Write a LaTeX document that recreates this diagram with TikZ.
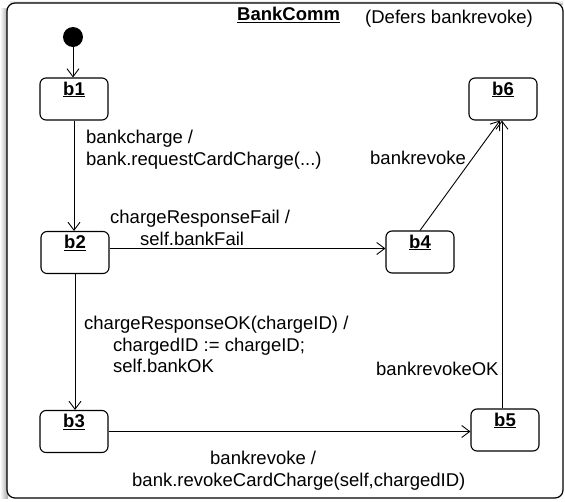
\documentclass[tikz,border=0pt]{standalone}
\usepackage{fontspec}
\setmainfont{Liberation Sans}
\usetikzlibrary{arrows.meta}
\begin{document}
\begin{tikzpicture}[x=1pt,y=-1pt,
  state/.style={draw, line width=1.1pt, rounded corners=6pt, minimum width=68pt, minimum height=42pt,
    inner xsep=0pt, inner ysep=0pt, text height=17pt, text depth=25pt,
    font=\fontsize{18.5}{21.5}\selectfont\bfseries},
  trans/.style={draw, line width=0.9pt, -{Straight Barb[length=8pt,width=12pt,line width=0.9pt]}},
  lbl/.style={inner sep=0pt, anchor=north west, align=left, font=\fontsize{18.5}{21.5}\selectfont}]
\useasboundingbox (0,0) rectangle (565,501);
% frame with soft shadow
\shade[left color=white, right color=gray!70] (0,8) rectangle (8,498);
\shade[top color=white, bottom color=gray!50] (10,0) rectangle (563,4);
\draw[line width=1.2pt, fill=white, rounded corners=8pt] (7,3) rectangle (563,498);
\node[lbl, font=\fontsize{18.5}{21.5}\selectfont\bfseries] (title) at (237,7) {\underline{BankComm}};
\node[lbl] (defers) at (365,10) {(Defers bankrevoke)};
% initial pseudo-state
\node[circle, fill=black, minimum size=20pt, inner sep=0pt] (init) at (73,37) {};
% states
\node[state] (b1) at (74,99) {\underline{b1}};
\node[state] (b2) at (75,252.5) {\underline{b2}};
\node[state] (b3) at (74,431.5) {\underline{b3}};
\node[state] (b4) at (420,252) {\underline{b4}};
\node[state] (b5) at (505,430) {\underline{b5}};
\node[state] (b6) at (503,99) {\underline{b6}};
% transitions
\draw[trans] (init.south) -- (init.south |- b1.north);
\draw[trans] (b1.south) -- (b1.south |- b2.north);
\draw[trans] ([yshift=4pt]b2.east) -- ([yshift=4pt]b2.east -| b4.west);
\draw[trans] (b2.south) -- (b2.south |- b3.north);
\draw[trans] (b3.east) -- (b3.east -| b5.west);
\draw[trans] ([xshift=-3pt]b5.north) -- ([xshift=-3pt]b5.north |- b6.south);
\draw[trans] (b4.north) -- ([xshift=-3pt]b6.south);
% labels
\node[lbl] (l12) at (86,130) {bankcharge /\\bank.requestCardCharge(...)};
\node[lbl] (l24) at (110,210) {chargeResponseFail /\\\hspace*{30pt}self.bankFail};
\node[lbl] (l46) at (370,151) {bankrevoke};
\node[lbl] (l23) at (84,316) {chargeResponseOK(chargeID) /\\\hspace*{29pt}chargedID := chargeID;\\\hspace*{29pt}self.bankOK};
\node[lbl] (l56) at (376,362) {bankrevokeOK};
\node[lbl] (l35) at (132,451) {\hspace*{78pt}bankrevoke /\\bank.revokeCardCharge(self,chargedID)};
\end{tikzpicture}
\end{document}
